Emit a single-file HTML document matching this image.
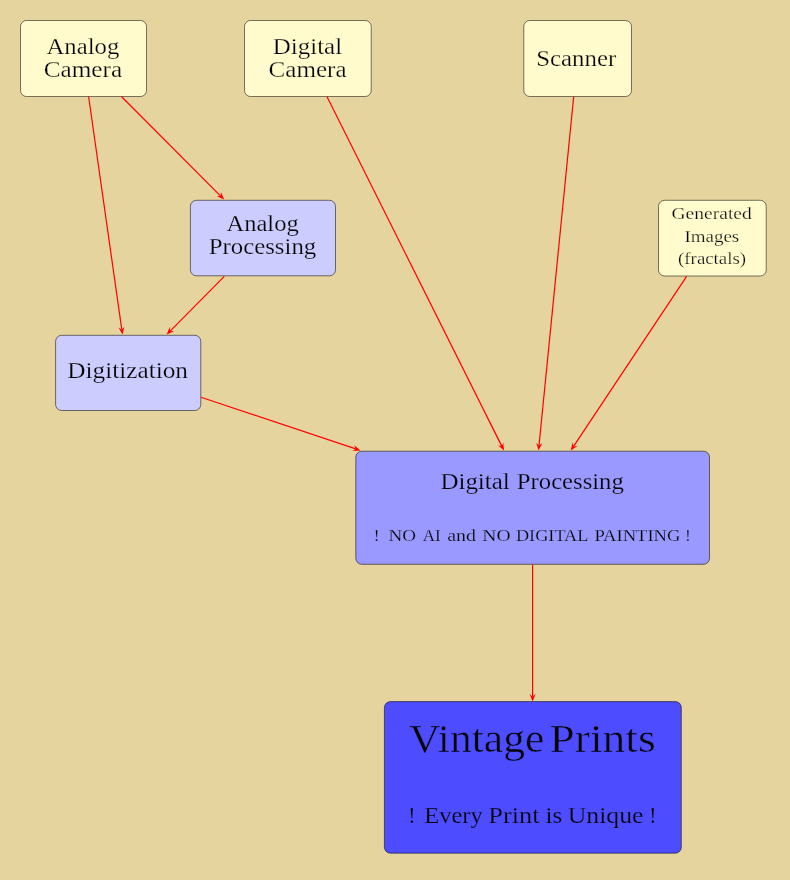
<!DOCTYPE html><html><head><meta charset="utf-8"><style>html,body{margin:0;padding:0;background:#E6D49F;}svg{display:block;will-change:transform}text{font-family:"Liberation Serif",serif;fill:#000}</style></head><body>
<svg width="790" height="880" viewBox="0 0 790 880">
<rect x="0" y="0" width="790" height="880" fill="#E6D49F"/>
<rect x="20.50" y="20.50" width="126.00" height="76.00" rx="6.0" ry="6.0" fill="#FFFBCC" stroke="rgba(0,0,0,0.52)" stroke-width="1.00"/>
<rect x="244.50" y="20.50" width="126.70" height="76.00" rx="6.0" ry="6.0" fill="#FFFBCC" stroke="rgba(0,0,0,0.52)" stroke-width="1.00"/>
<rect x="523.80" y="20.50" width="107.70" height="76.00" rx="6.0" ry="6.0" fill="#FFFBCC" stroke="rgba(0,0,0,0.52)" stroke-width="1.00"/>
<rect x="190.40" y="200.30" width="145.10" height="75.50" rx="6.0" ry="6.0" fill="#CCCCFF" stroke="rgba(0,0,0,0.52)" stroke-width="1.00"/>
<rect x="55.60" y="335.30" width="145.20" height="75.20" rx="6.0" ry="6.0" fill="#CCCCFF" stroke="rgba(0,0,0,0.52)" stroke-width="1.00"/>
<rect x="658.50" y="200.30" width="107.70" height="75.70" rx="6.0" ry="6.0" fill="#FFFBCC" stroke="rgba(0,0,0,0.52)" stroke-width="1.00"/>
<rect x="355.80" y="451.20" width="353.70" height="113.10" rx="6.0" ry="6.0" fill="#9999FF" stroke="rgba(0,0,0,0.52)" stroke-width="1.00"/>
<rect x="384.40" y="701.60" width="296.90" height="151.60" rx="6.0" ry="6.0" fill="#4D4DFF" stroke="rgba(0,0,0,0.52)" stroke-width="1.00"/>
<line x1="88.60" y1="96.50" x2="121.80" y2="329.65" stroke="#FF0000" stroke-width="1.2"/>
<path d="M122.50 334.60 L118.46 327.50 L121.80 329.65 L124.40 326.65 Z" fill="#FF0000"/>
<line x1="121.40" y1="96.50" x2="220.67" y2="196.06" stroke="#FF0000" stroke-width="1.2"/>
<path d="M224.20 199.60 L216.71 196.34 L220.67 196.06 L220.96 192.10 Z" fill="#FF0000"/>
<line x1="224.30" y1="276.30" x2="170.12" y2="331.05" stroke="#FF0000" stroke-width="1.2"/>
<path d="M166.60 334.60 L169.81 327.09 L170.12 331.05 L174.08 331.31 Z" fill="#FF0000"/>
<line x1="326.90" y1="96.50" x2="501.76" y2="446.13" stroke="#FF0000" stroke-width="1.2"/>
<path d="M504.00 450.60 L497.92 445.14 L501.76 446.13 L503.28 442.46 Z" fill="#FF0000"/>
<line x1="573.70" y1="96.50" x2="538.99" y2="445.62" stroke="#FF0000" stroke-width="1.2"/>
<path d="M538.50 450.60 L536.27 442.74 L538.99 445.62 L542.24 443.33 Z" fill="#FF0000"/>
<line x1="686.60" y1="276.30" x2="573.57" y2="446.44" stroke="#FF0000" stroke-width="1.2"/>
<path d="M570.80 450.60 L572.51 442.61 L573.57 446.44 L577.50 445.93 Z" fill="#FF0000"/>
<line x1="201.00" y1="397.30" x2="355.76" y2="448.92" stroke="#FF0000" stroke-width="1.2"/>
<path d="M360.50 450.50 L352.34 450.94 L355.76 448.92 L354.24 445.25 Z" fill="#FF0000"/>
<line x1="532.60" y1="564.50" x2="532.60" y2="696.50" stroke="#FF0000" stroke-width="1.2"/>
<path d="M532.60 701.50 L529.60 693.90 L532.60 696.50 L535.60 693.90 Z" fill="#FF0000"/>
<text x="46.54" y="54.20" font-size="24.00" textLength="72.70" lengthAdjust="spacingAndGlyphs" xml:space="preserve" stroke="#FFFBCC" stroke-width="0.25">Analog</text>
<text x="43.74" y="76.90" font-size="24.00" textLength="78.40" lengthAdjust="spacingAndGlyphs" xml:space="preserve" stroke="#FFFBCC" stroke-width="0.25">Camera</text>
<text x="272.74" y="54.20" font-size="24.00" textLength="69.40" lengthAdjust="spacingAndGlyphs" xml:space="preserve" stroke="#FFFBCC" stroke-width="0.25">Digital</text>
<text x="268.64" y="76.90" font-size="24.00" textLength="77.94" lengthAdjust="spacingAndGlyphs" xml:space="preserve" stroke="#FFFBCC" stroke-width="0.25">Camera</text>
<text x="536.28" y="65.90" font-size="24.00" textLength="79.94" lengthAdjust="spacingAndGlyphs" xml:space="preserve" stroke="#FFFBCC" stroke-width="0.25">Scanner</text>
<text x="226.54" y="231.40" font-size="24.00" textLength="72.14" lengthAdjust="spacingAndGlyphs" xml:space="preserve" stroke="#CCCCFF" stroke-width="0.25">Analog</text>
<text x="208.74" y="254.00" font-size="24.00" textLength="107.50" lengthAdjust="spacingAndGlyphs" xml:space="preserve" stroke="#CCCCFF" stroke-width="0.25">Processing</text>
<text x="67.30" y="377.70" font-size="24.00" textLength="120.72" lengthAdjust="spacingAndGlyphs" xml:space="preserve" stroke="#CCCCFF" stroke-width="0.25">Digitization</text>
<text x="671.52" y="219.20" font-size="16.20" textLength="80.28" lengthAdjust="spacingAndGlyphs" xml:space="preserve" stroke="#FFFBCC" stroke-width="0.25">Generated</text>
<text x="684.40" y="241.50" font-size="16.20" textLength="54.84" lengthAdjust="spacingAndGlyphs" xml:space="preserve" stroke="#FFFBCC" stroke-width="0.25">Images</text>
<text x="678.08" y="263.70" font-size="16.20" textLength="67.94" lengthAdjust="spacingAndGlyphs" xml:space="preserve" stroke="#FFFBCC" stroke-width="0.25">(fractals)</text>
<text x="440.40" y="489.40" font-size="24.00" textLength="69.40" lengthAdjust="spacingAndGlyphs" xml:space="preserve" stroke="#9999FF" stroke-width="0.25">Digital</text>
<text x="516.86" y="489.40" font-size="24.00" textLength="106.94" lengthAdjust="spacingAndGlyphs" xml:space="preserve" stroke="#9999FF" stroke-width="0.25">Processing</text>
<text x="373.84" y="541.20" font-size="17.40" stroke="#9999FF" stroke-width="0.25">!</text>
<text x="388.52" y="541.20" font-size="17.40" textLength="27.50" lengthAdjust="spacingAndGlyphs" xml:space="preserve" stroke="#9999FF" stroke-width="0.25">NO</text>
<text x="422.64" y="541.20" font-size="17.40" textLength="17.94" lengthAdjust="spacingAndGlyphs" xml:space="preserve" stroke="#9999FF" stroke-width="0.25">AI</text>
<text x="447.20" y="541.20" font-size="17.40" textLength="28.82" lengthAdjust="spacingAndGlyphs" xml:space="preserve" stroke="#9999FF" stroke-width="0.25">and</text>
<text x="482.30" y="541.20" font-size="17.40" textLength="28.28" lengthAdjust="spacingAndGlyphs" xml:space="preserve" stroke="#9999FF" stroke-width="0.25">NO</text>
<text x="515.96" y="541.20" font-size="17.40" textLength="72.40" lengthAdjust="spacingAndGlyphs" xml:space="preserve" stroke="#9999FF" stroke-width="0.25">DIGITAL</text>
<text x="594.40" y="541.20" font-size="17.40" textLength="86.10" lengthAdjust="spacingAndGlyphs" xml:space="preserve" stroke="#9999FF" stroke-width="0.25">PAINTING</text>
<text x="684.94" y="541.20" font-size="17.40" stroke="#9999FF" stroke-width="0.25">!</text>
<text x="408.98" y="752.20" font-size="40.00" textLength="135.30" lengthAdjust="spacingAndGlyphs" xml:space="preserve" stroke="#4D4DFF" stroke-width="0.54">Vintage</text>
<text x="549.50" y="752.20" font-size="40.00" textLength="106.12" lengthAdjust="spacingAndGlyphs" xml:space="preserve" stroke="#4D4DFF" stroke-width="0.54">Prints</text>
<text x="407.94" y="823.00" font-size="23.00" stroke="#4D4DFF" stroke-width="0.25">!</text>
<text x="424.30" y="823.00" font-size="23.00" textLength="58.40" lengthAdjust="spacingAndGlyphs" xml:space="preserve" stroke="#4D4DFF" stroke-width="0.25">Every</text>
<text x="488.30" y="823.00" font-size="23.00" textLength="51.16" lengthAdjust="spacingAndGlyphs" xml:space="preserve" stroke="#4D4DFF" stroke-width="0.25">Print</text>
<text x="545.52" y="823.00" font-size="23.00" textLength="16.72" lengthAdjust="spacingAndGlyphs" xml:space="preserve" stroke="#4D4DFF" stroke-width="0.25">is</text>
<text x="567.72" y="823.00" font-size="23.00" textLength="75.76" lengthAdjust="spacingAndGlyphs" xml:space="preserve" stroke="#4D4DFF" stroke-width="0.25">Unique</text>
<text x="648.94" y="823.00" font-size="23.00" stroke="#4D4DFF" stroke-width="0.25">!</text>
</svg></body></html>
